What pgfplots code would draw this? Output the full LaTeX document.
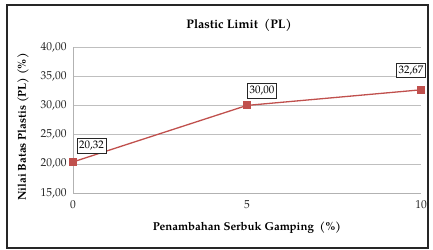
\documentclass[border=0pt]{standalone}
\usepackage{fontspec}
\setmainfont{TeX Gyre Pagella}
\usepackage{pgfplots}
\pgfplotsset{compat=1.18}
\definecolor{serred}{HTML}{C0504D}
\begin{document}
\begin{tikzpicture}
\useasboundingbox (-73bp,-57bp) rectangle (360bp,193bp);
\draw[line width=1.6bp, black!85] (-66bp,-55bp) rectangle (355bp,188bp);
\begin{axis}[
  at={(0,0)}, anchor=south west,
  scale only axis,
  width=348bp, height=146bp,
  xmin=0, xmax=10, ymin=15, ymax=40,
  xtick={0,5,10}, ytick={15,20,25,30,35,40},
  ymajorgrids, grid style={black!25},
  axis x line*=bottom, axis y line*=left,
  axis line style={black!30},
  major tick length=0pt,
  tick label style={font=\fontsize{11.5}{12}\selectfont, text=black!85},
  /pgf/number format/assume math mode=true,
  yticklabel style={/pgf/number format/fixed, /pgf/number format/fixed zerofill, /pgf/number format/precision=2, /pgf/number format/use comma, xshift=-3bp},
  xticklabel style={yshift=-4bp},
  clip=false,
]
\addplot[serred, line width=1.3bp, mark=square*, mark size=3.3bp, mark options={fill=serred, draw=serred}]
  coordinates {(0,20.32) (5,30.00) (10,32.67)};
\tikzset{lbl/.style={draw=black!85, fill=white, inner xsep=2bp, inner ysep=2.8bp, font=\fontsize{11}{12}\selectfont}}
\node[lbl, anchor=south west] at (axis cs:0,20.32) [xshift=4bp, yshift=9bp] {20,32};
\node[lbl, anchor=south] at (axis cs:5,30.00) [xshift=15bp, yshift=7bp] {30,00};
\node[lbl, anchor=south] at (axis cs:10,32.67) [xshift=-10bp, yshift=12bp] {32,67};
\end{axis}
\node[font=\bfseries\fontsize{12.5}{14}\selectfont] at (166bp,168bp) {Plastic Limit\ \ (PL)};
\node[font=\bfseries\fontsize{11.5}{13}\selectfont] at (174bp,-35bp) {Penambahan Serbuk Gamping\ \ (\%)};
\node[font=\bfseries\fontsize{11.5}{13}\selectfont, rotate=90] at (-50bp,66bp) {Nilai Batas Plastis (PL) (\%)};
\end{tikzpicture}
\end{document}
